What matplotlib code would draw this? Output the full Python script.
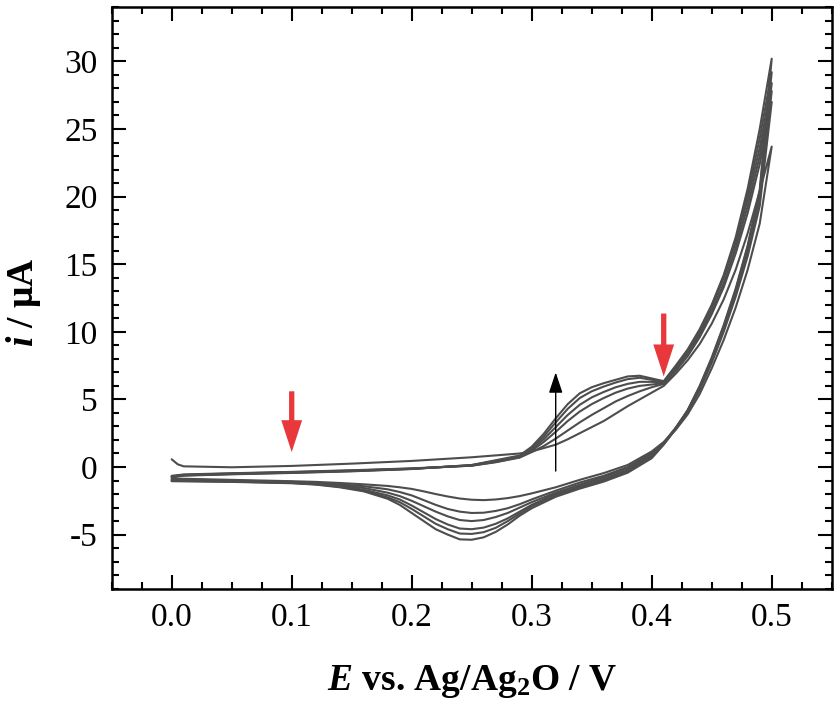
import numpy as np
import matplotlib
matplotlib.use('Agg')
import matplotlib.pyplot as plt
from matplotlib.ticker import MultipleLocator, FormatStrFormatter

plt.rcParams['font.family'] = ['Liberation Serif', 'DejaVu Serif']
plt.rcParams['axes.unicode_minus'] = False
plt.rcParams['mathtext.fontset'] = 'custom'
plt.rcParams['mathtext.rm'] = 'Liberation Serif:bold'
plt.rcParams['mathtext.bf'] = 'Liberation Serif:bold'
plt.rcParams['mathtext.it'] = 'Liberation Serif:italic:bold'

# potential grids (V vs Ag/Ag2O)
E_anodic = [0.0, 0.005, 0.01, 0.05, 0.10, 0.15, 0.20, 0.25, 0.27, 0.29, 0.30,
            0.31, 0.32, 0.33, 0.34, 0.35, 0.36, 0.37, 0.38, 0.39, 0.40,
            0.41, 0.42, 0.43, 0.44, 0.45, 0.46, 0.47, 0.48, 0.49, 0.50]
E_cathodic = [0.50, 0.49, 0.48, 0.47, 0.46, 0.45, 0.44, 0.43, 0.42, 0.41,
              0.40, 0.38, 0.36, 0.34, 0.32, 0.30, 0.29, 0.28, 0.27, 0.26,
              0.25, 0.24, 0.23, 0.22, 0.21, 0.20, 0.19, 0.18, 0.16, 0.14,
              0.12, 0.10, 0.05, 0.0]

# current (uA), forward sweep, cycles 1..6
i_an_1 = [0.57, 0.2, 0.05, -0.02, 0.08, 0.25, 0.45, 0.72, 0.86, 1.0, 1.15, 1.4, 1.65, 2.05, 2.5, 2.95,
          3.4, 3.95, 4.5, 5.0, 5.5, 6.0, 6.9, 7.9, 9.1, 10.6, 12.4, 14.6, 17.3, 20.4, 23.7]
i_an_2 = [-0.65, -0.6, -0.55, -0.46, -0.36, -0.24, -0.1, 0.1, 0.35, 0.7, 1.1, 1.55, 2.1, 2.7, 3.3, 3.85,
          4.35, 4.85, 5.25, 5.6, 5.9, 6.15, 7.1, 8.2, 9.6, 11.3, 13.3, 15.8, 18.8, 22.4, 27.0]
i_an_3 = [-0.7, -0.64, -0.58, -0.48, -0.38, -0.26, -0.12, 0.1, 0.38, 0.72, 1.2, 1.85, 2.6, 3.4, 4.1, 4.65,
          5.1, 5.5, 5.8, 6.0, 6.1, 6.2, 7.2, 8.4, 9.8, 11.5, 13.6, 16.2, 19.3, 23.0, 27.8]
i_an_4 = [-0.72, -0.66, -0.6, -0.5, -0.4, -0.28, -0.13, 0.12, 0.42, 0.76, 1.3, 2.05, 2.95, 3.85, 4.6, 5.15,
          5.55, 5.9, 6.15, 6.3, 6.3, 6.25, 7.3, 8.5, 10.0, 11.8, 14.0, 16.6, 19.8, 23.6, 28.4]
i_an_5 = [-0.74, -0.68, -0.62, -0.52, -0.42, -0.3, -0.14, 0.14, 0.46, 0.8, 1.4, 2.25, 3.3, 4.3, 5.1, 5.6,
          5.95, 6.25, 6.5, 6.6, 6.45, 6.3, 7.4, 8.6, 10.1, 11.9, 14.1, 16.8, 20.2, 24.3, 29.2]
i_an_6 = [-0.76, -0.7, -0.64, -0.54, -0.44, -0.32, -0.15, 0.15, 0.5, 0.85, 1.5, 2.45, 3.6, 4.65, 5.45, 5.9,
          6.2, 6.45, 6.7, 6.75, 6.55, 6.35, 7.5, 8.7, 10.2, 12.0, 14.2, 17.0, 20.6, 25.0, 30.2]

# current (uA), reverse sweep, cycles 1..6
i_ca_1 = [23.7, 18.0, 14.6, 11.8, 9.4, 7.3, 5.4, 3.9, 2.75, 1.85, 1.15, 0.15, -0.45, -0.95, -1.5, -1.95,
          -2.15, -2.3, -2.4, -2.45, -2.42, -2.33, -2.18, -2.0, -1.8, -1.62, -1.5, -1.4, -1.28, -1.18,
          -1.1, -1.05, -0.95, -0.85]
i_ca_2 = [27.0, 19.3, 15.6, 12.6, 10.0, 7.7, 5.7, 4.1, 2.85, 1.8, 1.05, 0.0, -0.65, -1.15, -1.75, -2.4,
          -2.75, -3.05, -3.25, -3.38, -3.4, -3.3, -3.1, -2.8, -2.45, -2.1, -1.85, -1.65, -1.42, -1.28,
          -1.18, -1.1, -1.0, -0.9]
i_ca_3 = [27.8, 19.7, 15.9, 12.8, 10.2, 7.85, 5.8, 4.15, 2.9, 1.8, 0.95, -0.1, -0.75, -1.3, -1.9, -2.6,
          -3.0, -3.4, -3.7, -3.92, -4.0, -3.92, -3.65, -3.3, -2.9, -2.5, -2.15, -1.9, -1.55, -1.35,
          -1.22, -1.13, -1.03, -0.95]
i_ca_4 = [28.4, 20.0, 16.1, 13.0, 10.3, 7.95, 5.9, 4.2, 2.9, 1.75, 0.85, -0.22, -0.88, -1.42, -2.0, -2.8,
          -3.3, -3.8, -4.2, -4.48, -4.6, -4.55, -4.25, -3.85, -3.35, -2.85, -2.4, -2.1, -1.68, -1.42,
          -1.26, -1.16, -1.06, -1.0]
i_ca_5 = [29.2, 20.3, 16.3, 13.1, 10.4, 8.0, 5.95, 4.2, 2.85, 1.7, 0.75, -0.32, -0.98, -1.52, -2.1, -2.9,
          -3.45, -4.0, -4.5, -4.82, -4.95, -4.92, -4.6, -4.2, -3.65, -3.1, -2.6, -2.25, -1.75, -1.46,
          -1.28, -1.18, -1.08, -1.02]
i_ca_6 = [30.2, 20.5, 16.4, 13.2, 10.5, 8.1, 6.0, 4.2, 2.8, 1.65, 0.65, -0.42, -1.08, -1.6, -2.2, -3.05,
          -3.6, -4.25, -4.8, -5.2, -5.38, -5.35, -5.0, -4.6, -4.0, -3.4, -2.8, -2.35, -1.8, -1.5,
          -1.3, -1.2, -1.1, -1.05]

anodic = [i_an_1, i_an_2, i_an_3, i_an_4, i_an_5, i_an_6]
cathodic = [i_ca_1, i_ca_2, i_ca_3, i_ca_4, i_ca_5, i_ca_6]

fig = plt.figure(figsize=(8.38, 7.02), dpi=100)
ax = fig.add_axes([0.1333, 0.1614, 0.8592, 0.8282])

for ia, ic in zip(anodic, cathodic):
    ax.plot(E_anodic + E_cathodic, ia + ic, color='#4d4d4d', lw=1.5,
            solid_joinstyle='round', solid_capstyle='round')

ax.set_xlim(-0.05, 0.55)
ax.set_ylim(-9, 34)
ax.xaxis.set_major_locator(MultipleLocator(0.1))
ax.xaxis.set_minor_locator(MultipleLocator(0.025))
ax.yaxis.set_major_locator(MultipleLocator(5))
ax.yaxis.set_minor_locator(MultipleLocator(1))
ax.set_yticks([-5, 0, 5, 10, 15, 20, 25, 30])
ax.xaxis.set_major_formatter(FormatStrFormatter('%.1f'))
ax.tick_params(which='both', direction='in', top=True, right=True, width=1.5, labelsize=24)
ax.tick_params(which='major', length=10, pad=10)
ax.tick_params(which='minor', length=5)
for sp in ax.spines.values():
    sp.set_linewidth(1.8)

# arrows
ax.annotate('', xy=(0.32, 7.0), xytext=(0.32, -0.3),
            arrowprops=dict(arrowstyle='-|>,head_width=0.3,head_length=0.9', color='black',
                            lw=1.0, shrinkA=0, shrinkB=0, mutation_scale=14))
red = '#e8383b'
for x0, y_top, y_tip in [(0.10, 5.6, 1.1), (0.41, 11.35, 6.7)]:
    ax.annotate('', xy=(x0, y_tip), xytext=(x0, y_top),
                arrowprops=dict(arrowstyle='simple,head_width=1.5,head_length=2.3,tail_width=0.38',
                                color=red, lw=0, shrinkA=0, shrinkB=0, mutation_scale=10))

ax.set_xlabel(r'$E$ vs. Ag/Ag$_2$O / V', fontsize=27, fontweight='bold')
ax.set_ylabel(r'$i$ / μA', fontsize=27, fontweight='bold')
ax.xaxis.set_label_coords(0.5, -0.128)
ax.yaxis.set_label_coords(-0.096, 0.493)

fig.savefig('out.png', dpi=100)
